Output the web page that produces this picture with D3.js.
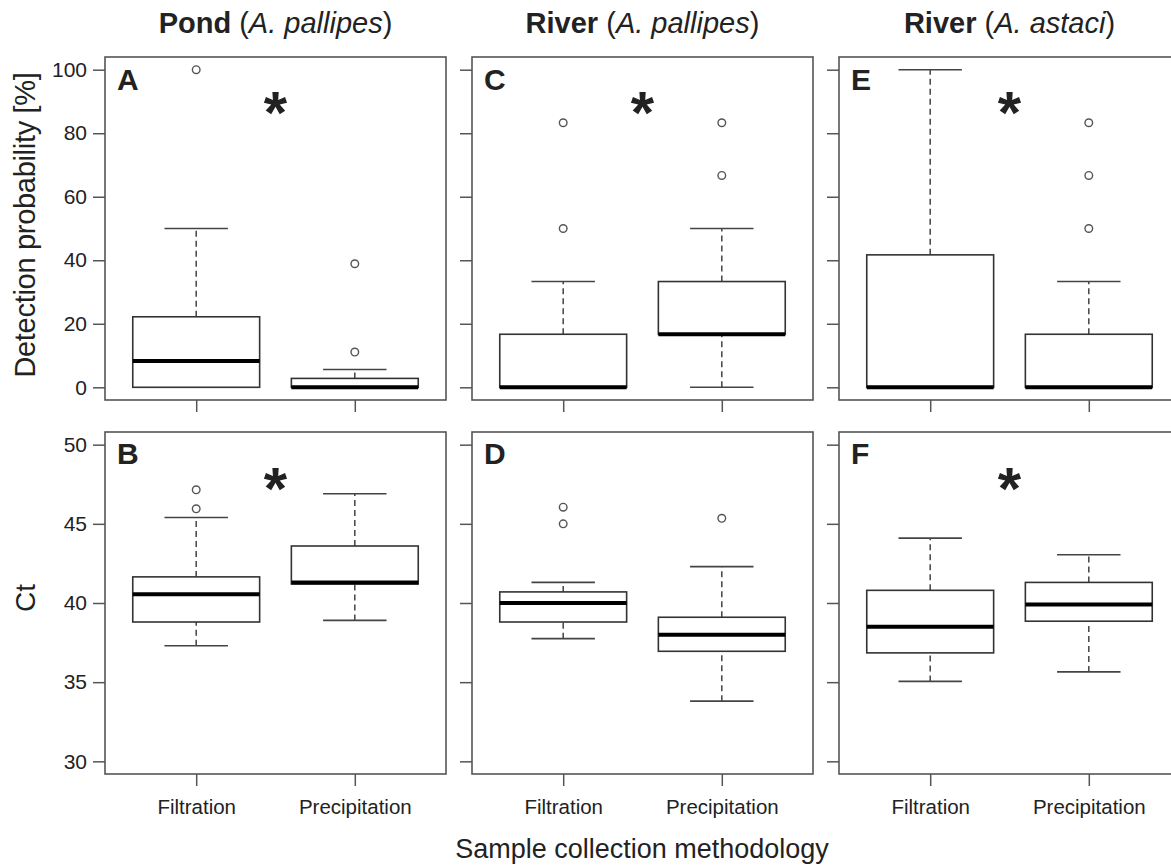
<!DOCTYPE html>
<html>
<head>
<meta charset="utf-8">
<script src="https://cdn.jsdelivr.net/npm/d3@7"></script>
<style>
    body { margin: 0; background: #fff; }
    svg text { font-family: "Liberation Sans", Arial, sans-serif; fill: #222; }
</style>
</head>
<body>
<div id="chart"></div>
<script>

// categories
const methods = ["Filtration", "Precipitation"];
const sites = ["Pond", "River", "River"];
const species = ["A. pallipes", "A. pallipes", "A. astaci"];
const topLetters = ["A", "C", "E"];
const bottomLetters = ["B", "D", "F"];

// box stats: [lower whisker, Q1, median, Q3, upper whisker] per method
const probPondPallipes = [[0, 0, 8.3, 22.2, 50], [0, 0, 0, 2.8, 5.6]];
const probRiverPallipes = [[0, 0, 0, 16.7, 33.3], [0, 16.7, 16.7, 33.3, 50]];
const probRiverAstaci = [[0, 0, 0, 41.7, 100], [0, 0, 0, 16.7, 33.3]];
const probOutliers = [[[100], [38.9, 11.1]], [[83.3, 50], [83.3, 66.7]], [[], [83.3, 66.7, 50]]];

const ctPondPallipes = [[37.3, 38.8, 40.55, 41.65, 45.4], [38.9, 41.2, 41.3, 43.6, 46.9]];
const ctRiverPallipes = [[37.75, 38.8, 40.0, 40.7, 41.3], [33.8, 36.95, 38.0, 39.1, 42.3]];
const ctRiverAstaci = [[35.05, 36.85, 38.5, 40.8, 44.1], [35.65, 38.85, 39.9, 41.3, 43.05]];
const ctOutliers = [[[47.15, 45.95], []], [[46.05, 45.0], [45.35]], [[], []]];

// significance stars (value on y axis, null = none)
const probStars = [90.5, 90.5, 90.5];
const ctStars = [48, null, 48];

// tick labels
const probTicks = [0, 20, 40, 60, 80, 100];
const ctTicks = [30, 35, 40, 45, 50];

const width = 1171, height = 867;

let svg = d3.select("#chart").append("svg")
    .attr("width", width)
    .attr("height", height);

class BoxPanel {

    constructor(svg, cfg) {
        this.svg = svg;
        this.cfg = cfg;
        this.initVis();
    }

    initVis() {
        let vis = this;
        let c = vis.cfg;

        vis.g = vis.svg.append("g")
            .attr("transform", "translate(" + c.left + "," + c.top + ")");

        vis.x = d3.scaleLinear().domain([0.425, 2.575]).range([0, c.width]);
        vis.y = d3.scaleLinear().domain(c.yDomain).range([c.height, 0]);

        // y axis
        let yAxis = d3.axisLeft(vis.y)
            .tickValues(c.ticks)
            .tickSize(12)
            .tickPadding(6)
            .tickFormat(c.showYLabels ? d3.format("d") : "");
        let ya = vis.g.append("g").call(yAxis);
        ya.select(".domain").remove();
        ya.selectAll("line").attr("stroke", "#555").attr("stroke-width", 1.5);
        ya.selectAll("text").style("font-size", "21px").attr("fill", "#222");

        // x axis
        let xAxis = d3.axisBottom(vis.x)
            .tickValues([1, 2])
            .tickSize(12)
            .tickPadding(13)
            .tickFormat((d, i) => c.showXLabels ? methods[i] : "");
        let xa = vis.g.append("g")
            .attr("transform", "translate(0," + c.height + ")")
            .call(xAxis);
        xa.select(".domain").remove();
        xa.selectAll("line").attr("stroke", "#555").attr("stroke-width", 1.5);
        xa.selectAll("text").style("font-size", "20.5px").attr("fill", "#222");

        vis.updateVis();

        // frame
        vis.g.append("rect")
            .attr("width", c.width)
            .attr("height", c.height)
            .attr("fill", "none")
            .attr("stroke", "#555")
            .attr("stroke-width", 1.6);

        // panel letter
        vis.g.append("text")
            .attr("x", 12)
            .attr("y", c.letterY)
            .style("font-size", "30px")
            .style("font-weight", "bold")
            .attr("fill", "#111")
            .text(c.letter);

        // star
        if (c.star != null) {
            vis.g.append("text")
                .attr("x", vis.x(1.5))
                .attr("y", vis.y(c.star))
                .attr("dy", "0.55em")
                .attr("text-anchor", "middle")
                .style("font-size", "60px")
                .style("font-weight", "bold")
                .attr("fill", "#111")
                .text("*");
        }
    }

    updateVis() {
        let vis = this;
        let c = vis.cfg;
        let bw = 0.8, cw = 0.4;

        let boxes = vis.g.selectAll(".box")
            .data(c.stats)
            .enter().append("g")
            .attr("class", "box");

        // whiskers
        boxes.append("line")
            .attr("x1", (d, i) => vis.x(i + 1))
            .attr("x2", (d, i) => vis.x(i + 1))
            .attr("y1", d => vis.y(d[3]))
            .attr("y2", d => vis.y(d[4]))
            .attr("stroke", "#444")
            .attr("stroke-width", 1.5)
            .attr("stroke-dasharray", "6,4");
        boxes.append("line")
            .attr("x1", (d, i) => vis.x(i + 1))
            .attr("x2", (d, i) => vis.x(i + 1))
            .attr("y1", d => vis.y(d[0]))
            .attr("y2", d => vis.y(d[1]))
            .attr("stroke", "#444")
            .attr("stroke-width", 1.5)
            .attr("stroke-dasharray", "6,4");

        // caps
        [0, 4].forEach(k => {
            boxes.append("line")
                .attr("x1", (d, i) => vis.x(i + 1 - cw / 2))
                .attr("x2", (d, i) => vis.x(i + 1 + cw / 2))
                .attr("y1", d => vis.y(d[k]))
                .attr("y2", d => vis.y(d[k]))
                .attr("stroke", "#444")
                .attr("stroke-width", 1.6);
        });

        // box
        boxes.append("rect")
            .attr("x", (d, i) => vis.x(i + 1 - bw / 2))
            .attr("width", vis.x(bw) - vis.x(0))
            .attr("y", d => vis.y(d[3]))
            .attr("height", d => vis.y(d[1]) - vis.y(d[3]))
            .attr("fill", "white")
            .attr("stroke", "#333")
            .attr("stroke-width", 1.6);

        // median
        boxes.append("line")
            .attr("x1", (d, i) => vis.x(i + 1 - bw / 2))
            .attr("x2", (d, i) => vis.x(i + 1 + bw / 2))
            .attr("y1", d => vis.y(d[2]))
            .attr("y2", d => vis.y(d[2]))
            .attr("stroke", "#000")
            .attr("stroke-width", 4);

        // outliers
        c.outliers.forEach((arr, i) => {
            vis.g.selectAll(".out" + i)
                .data(arr)
                .enter().append("circle")
                .attr("class", "out" + i)
                .attr("cx", vis.x(i + 1))
                .attr("cy", d => vis.y(d))
                .attr("r", 3.8)
                .attr("fill", "white")
                .attr("stroke", "#555")
                .attr("stroke-width", 1.4);
        });
    }
}

let panelLeft = [105, 472, 839];
let panelW = 341;
let probStats = [probPondPallipes, probRiverPallipes, probRiverAstaci];
let ctStats = [ctPondPallipes, ctRiverPallipes, ctRiverAstaci];

for (let i = 0; i < 3; i++) {
    new BoxPanel(svg, {
        left: panelLeft[i], top: 57, width: panelW, height: 343,
        yDomain: [-4, 104], ticks: probTicks,
        stats: probStats[i], outliers: probOutliers[i],
        letter: topLetters[i], letterY: 33, star: probStars[i],
        showYLabels: i === 0, showXLabels: false
    });
    new BoxPanel(svg, {
        left: panelLeft[i], top: 432, width: panelW, height: 342,
        yDomain: [29.2, 50.8], ticks: ctTicks,
        stats: ctStats[i], outliers: ctOutliers[i],
        letter: bottomLetters[i], letterY: 32, star: ctStars[i],
        showYLabels: i === 0, showXLabels: true
    });

    // column title
    let t = svg.append("text")
        .attr("x", panelLeft[i] + panelW / 2)
        .attr("y", 33)
        .attr("text-anchor", "middle")
        .style("font-size", "29px")
        .attr("fill", "#111");
    t.append("tspan").style("font-weight", "bold").text(sites[i] + " ");
    t.append("tspan").text("(");
    t.append("tspan").style("font-style", "italic").text(species[i]);
    t.append("tspan").text(")");
}

// axis titles
svg.append("text")
    .attr("transform", "translate(35,225) rotate(-90)")
    .attr("text-anchor", "middle")
    .style("font-size", "29px")
    .style("letter-spacing", "-0.3px")
    .text("Detection probability [%]");

svg.append("text")
    .attr("transform", "translate(35,598) rotate(-90)")
    .attr("text-anchor", "middle")
    .style("font-size", "28px")
    .text("Ct");

svg.append("text")
    .attr("x", 642)
    .attr("y", 858)
    .attr("text-anchor", "middle")
    .style("font-size", "27px")
    .text("Sample collection methodology");

</script>
</body>
</html>
